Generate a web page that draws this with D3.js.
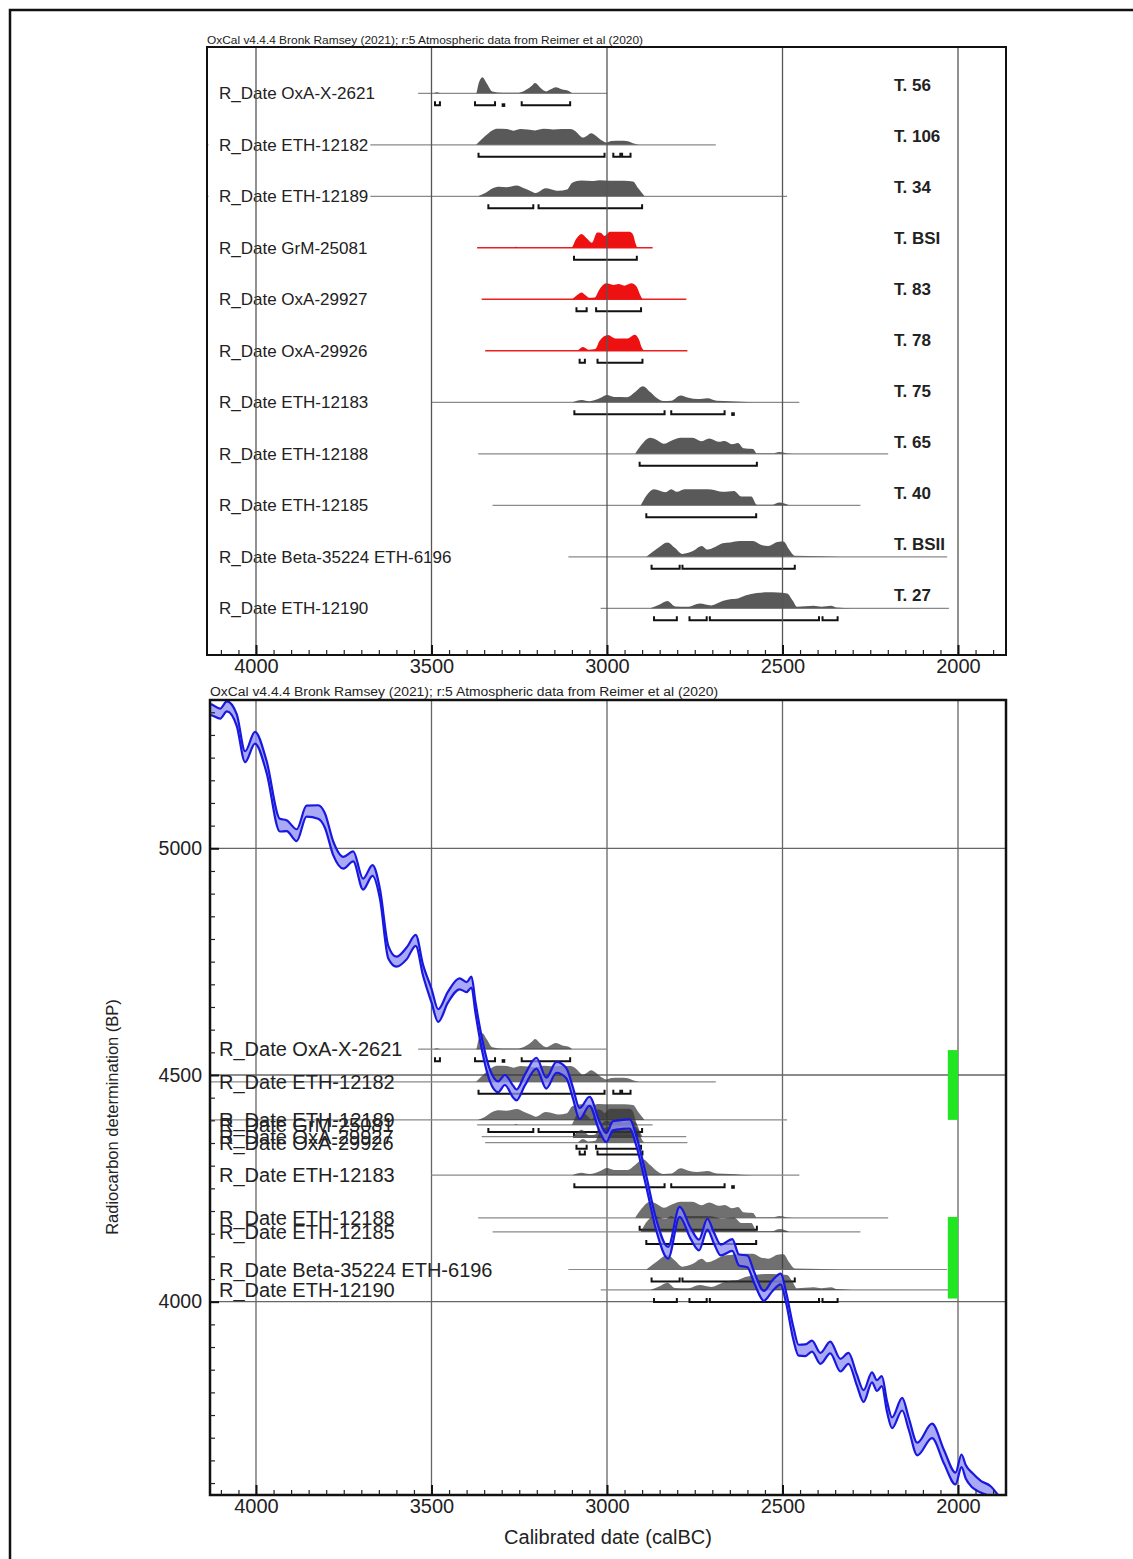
<!DOCTYPE html>
<html>
<head>
<meta charset="utf-8">
<script src="https://cdn.jsdelivr.net/npm/d3@7"></script>
<style>
body{margin:0;background:#fff}
svg{display:block;font-family:"Liberation Sans",Arial,sans-serif}
</style>
</head>
<body>
<div id="box"></div>
<script>
// ---- data ----
var sampleNames=['OxA-X-2621','ETH-12182','ETH-12189','GrM-25081','OxA-29927','OxA-29926','ETH-12183','ETH-12188','ETH-12185','Beta-35224 ETH-6196','ETH-12190'];
var graveTags=['T. 56','T. 106','T. 34','T. BSI','T. 83','T. 78','T. 75','T. 65','T. 40','T. BSII','T. 27'];
var sampleBP=[4557,4485,4401,4390,4364,4351,4279,4185,4154,4071,4026];	//radiocarbon determination
var redSamples=['GrM-25081','OxA-29927','OxA-29926'];
var lineFrom=[3538,4200,4200,3370,3357,3347,3500,3367,3326,3110,3018];	//calBC
var lineTo=[3000,2690,2487,2870,2774,2771,2452,2199,2278,2031,2026];

// [calBC, relative probability]
var dist_OxAX2621=[[3494,0],[3484,0.06],[3474,0],[3373,0],[3366,0.6],[3355,1],[3342,0.6],[3327,0.12],[3297,0.04],[3256,0.04],[3236,0.15],[3215,0.45],[3205,0.64],[3190,0.35],[3173,0.12],[3160,0.25],[3146,0.38],[3129,0.25],[3109,0.15],[3099,0]];
var dist_ETH12182=[[3373,0],[3357,0.35],[3342,0.65],[3327,0.9],[3312,1],[3286,0.98],[3266,0.88],[3246,0.98],[3226,0.95],[3205,0.9],[3180,1],[3154,0.96],[3129,0.98],[3104,0.98],[3092,0.88],[3068,0.45],[3058,0.55],[3045,0.72],[3031,0.55],[3017,0.3],[3002,0.15],[2987,0.24],[2962,0.25],[2941,0.22],[2921,0.06],[2909,0]];
var dist_ETH12189=[[3368,0],[3347,0.2],[3327,0.49],[3307,0.6],[3286,0.57],[3258,0.68],[3236,0.5],[3215,0.3],[3203,0.2],[3175,0.5],[3160,0.44],[3139,0.34],[3114,0.42],[3099,0.85],[3073,0.98],[3043,0.95],[3022,1],[2992,0.97],[2951,0.97],[2926,0.93],[2911,0.5],[2893,0]];
var dist_GrM25081=[[3266,0],[3258,0.06],[3250,0],[3102,0],[3088,0.55],[3073,0.87],[3058,0.6],[3043,0.32],[3028,0.96],[3017,0.93],[3007,0.74],[2992,1],[2936,1],[2926,0.83],[2919,0.3],[2914,0]];
var dist_OxA29927=[[3099,0],[3083,0.3],[3073,0.43],[3061,0.25],[3051,0.1],[3035,0.12],[3022,0.6],[3002,1],[2982,0.9],[2967,0.95],[2951,0.85],[2931,1],[2916,0.8],[2906,0.3],[2899,0]];
var dist_OxA29926=[[3083,0],[3068,0.23],[3053,0.07],[3033,0.12],[3022,0.6],[2997,0.98],[2977,0.77],[2941,0.77],[2921,1],[2909,0.7],[2901,0.2],[2894,0]];
var dist_ETH12183=[[3099,0],[3072,0.15],[3050,0.07],[3018,0.28],[3000,0.45],[2980,0.33],[2942,0.32],[2920,0.64],[2898,1],[2877,0.64],[2860,0.3],[2839,0.08],[2817,0.1],[2790,0.43],[2768,0.28],[2741,0.2],[2714,0.26],[2687,0.1],[2649,0.07],[2617,0.03],[2584,0]];
var dist_ETH12188=[[2920,0],[2904,0.5],[2877,1],[2857,0.85],[2839,0.63],[2812,0.87],[2790,1],[2757,1],[2730,0.78],[2709,0.95],[2682,0.75],[2665,0.8],[2644,0.6],[2627,0.68],[2611,0.35],[2584,0.3],[2573,0.03],[2530,0.03],[2508,0.12],[2487,0.03],[2470,0]];
var dist_ETH12185=[[2904,0],[2888,0.6],[2866,1],[2833,0.82],[2817,1],[2801,0.84],[2779,1],[2725,1],[2703,0.98],[2671,0.84],[2638,0.9],[2617,0.55],[2589,0.55],[2573,0.04],[2530,0.04],[2508,0.18],[2481,0]];
var dist_Beta35224=[[2888,0],[2855,0.55],[2828,0.9],[2806,0.55],[2785,0.18],[2757,0.34],[2730,0.68],[2714,0.45],[2692,0.61],[2671,0.84],[2649,0.9],[2622,0.98],[2584,0.98],[2562,0.75],[2541,0.68],[2514,0.93],[2497,0.95],[2481,0.45],[2465,0.06],[2389,0.03],[2335,0]];
var dist_ETH12190=[[2877,0],[2850,0.23],[2828,0.45],[2806,0.12],[2768,0.1],[2736,0.3],[2703,0.18],[2671,0.45],[2649,0.57],[2627,0.62],[2606,0.8],[2573,0.95],[2541,1],[2514,0.98],[2487,0.93],[2470,0.45],[2459,0.1],[2411,0.16],[2389,0.1],[2362,0.16],[2346,0.05],[2302,0]];

// 95.4% ranges, calBC
var hpd_OxAX2621=[[3490,3476],[3376,3319],[3296,3294],[3243,3105]];
var hpd_ETH12182=[[3366,3007],[2982,2962],[2957,2933]];
var hpd_ETH12189=[[3338,3210],[3195,2900]];
var hpd_GrM25081=[[3094,2915]];
var hpd_OxA29927=[[3087,3058],[3031,2903]];
var hpd_OxA29926=[[3078,3063],[3027,2899]];
var hpd_ETH12183=[[3093,2836],[2817,2665],[2642,2640]];
var hpd_ETH12188=[[2907,2573]];
var hpd_ETH12185=[[2888,2575]];
var hpd_Beta35224=[[2873,2793],[2785,2465]];
var hpd_ETH12190=[[2866,2801],[2765,2716],[2707,2396],[2386,2343]];

var distList=[dist_OxAX2621,dist_ETH12182,dist_ETH12189,dist_GrM25081,dist_OxA29927,dist_OxA29926,dist_ETH12183,dist_ETH12188,dist_ETH12185,dist_Beta35224,dist_ETH12190];
var hpdList=[hpd_OxAX2621,hpd_ETH12182,hpd_ETH12189,hpd_GrM25081,hpd_OxA29927,hpd_OxA29926,hpd_ETH12183,hpd_ETH12188,hpd_ETH12185,hpd_Beta35224,hpd_ETH12190];

// calibration curve (IntCal20 as drawn): calBC, BP, 1 sigma
var curveYear=[4150,4131,4102,4083,4055,4031,4003,3970,3932,3913,3884,3856,3823,3804,3780,3751,3723,3695,3668,3647,3623,3600,3571,3545,3524,3500,3481,3453,3420,3400,3386,3375,3360,3334,3310,3291,3267,3258,3234,3201,3173,3144,3116,3097,3078,3050,3021,3002,2983,2955,2935,2917,2888,2860,2826,2793,2762,2738,2714,2695,2676,2643,2624,2600,2581,2553,2529,2505,2490,2469,2454,2435,2416,2392,2364,2335,2312,2288,2269,2245,2231,2217,2202,2188,2159,2140,2116,2074,2040,2007,1990,1978,1959,1935,1907,1880];
var curveBP=[5300,5306,5297,5313,5283,5202,5244,5180,5051,5050,5029,5082,5080,5062,5000,4968,4982,4921,4951,4900,4771,4750,4768,4797,4731,4675,4631,4672,4701,4694,4705,4650,4583,4500,4474,4489,4463,4456,4489,4526,4482,4517,4504,4460,4415,4442,4386,4362,4388,4391,4392,4356,4265,4170,4108,4198,4151,4125,4171,4140,4114,4125,4092,4089,4054,4013,4035,4050,4010,3930,3893,3893,3902,3875,3899,3860,3875,3827,3792,3833,3815,3825,3768,3733,3774,3730,3675,3715,3658,3610,3649,3625,3606,3592,3581,3555];
var curveErr=[12,12,11,11,13,12,13,13,14,12,13,12,15,16,15,13,11,12,12,11,14,11,13,12,12,15,14,12,12,11,12,12,13,13,12,11,13,12,12,12,12,12,11,12,12,10,11,10,10,10,10,11,12,12,13,11,12,12,12,12,12,13,12,13,12,11,12,12,12,14,12,13,12,12,13,14,12,12,13,11,12,11,12,12,14,13,14,16,15,13,14,15,16,13,12,12];

var phaseBars=[[4555,4401],[4187,4007]];	//green bars, BP
var phaseBarYears=[2029,2000];

var majorYears=[4000,3500,3000,2500,2000];
var majorBP=[4000,4500,5000];
var headerText='OxCal v4.4.4 Bronk Ramsey (2021); r:5 Atmospheric data from Reimer et al (2020)';

// ---- layout ----
var W=1133,H=1559;
var topBox={l:207,r:1006,t:47,b:655};
var botBox={l:210,r:1006,t:700,b:1495};
var peakH=16;

var svg=d3.select('#box').append('svg').attr('width',W).attr('height',H);

var x=d3.scaleLinear().domain([4000,2000]).range([256,958]);
var yRow=d3.scalePoint().domain(sampleNames).range([93.3,608.3]);
var yTag=d3.scalePoint().domain(graveTags).range([85,595]);
var yBP=d3.scaleLinear().domain([4000,5000]).range([1301.7,848.3]);

// outer border (runs off the page right and bottom)
svg.append('path').attr('d','M10,'+H+'V10H'+W).attr('fill','none').attr('stroke','#111').attr('stroke-width',2.5);

function clip(id,b){
	svg.append('clipPath').attr('id',id).append('rect')
		.attr('x',b.l).attr('y',b.t).attr('width',b.r-b.l).attr('height',b.b-b.t);
}
clip('clipTop',topBox);
clip('clipBot',botBox);

function area(base){
	return d3.area().x(function(d){return x(d[0]);})
		.y0(base).y1(function(d){return base-d[1]*peakH;})
		.curve(d3.curveMonotoneX);
}

function brackets(g,ranges,base){
	ranges.forEach(function(r){
		var x1=x(r[0]),x2=x(r[1]);
		if(x2-x1<3){	//tiny range: dot
			g.append('rect').attr('x',(x1+x2)/2-1.8).attr('y',base-2).attr('width',3.6).attr('height',3.6).attr('fill','#111');
		}else{
			g.append('path').attr('d','M'+x1+','+(base-4)+'V'+base+'H'+x2+'V'+(base-4))
				.attr('fill','none').attr('stroke','#111').attr('stroke-width',2);
		}
	});
}

function xTicks(g,b){
	var minor=d3.range(4100,1850,-50).filter(function(v){return majorYears.indexOf(v)<0;});
	g.append('g').attr('transform','translate(0,'+b.b+')')
		.call(d3.axisBottom(x).tickValues(minor).tickSize(-5).tickFormat(''))
		.call(function(a){a.select('.domain').remove();a.selectAll('line').attr('stroke','#222').attr('stroke-width',1.2);});
	g.append('g').attr('transform','translate(0,'+b.b+')')
		.call(d3.axisBottom(x).tickValues(majorYears).tickSize(-10).tickPadding(4).tickFormat(d3.format('d')))
		.call(function(a){
			a.select('.domain').remove();
			a.selectAll('line').attr('stroke','#111').attr('stroke-width',2);
			a.selectAll('text').attr('font-size',20).attr('fill','#222').attr('font-family','"Liberation Sans",Arial,sans-serif');
		});
}

// ================= top panel: multiplot =================
var gTop=svg.append('g');
svg.append('text').attr('x',topBox.l).attr('y',44).attr('font-size',10.5).attr('fill','#222')
	.attr('textLength',436).attr('lengthAdjust','spacingAndGlyphs').text(headerText);

var gTopData=gTop.append('g').attr('clip-path','url(#clipTop)');
sampleNames.forEach(function(n,i){
	var base=yRow(n),red=redSamples.indexOf(n)>=0;
	gTopData.append('line').attr('x1',x(lineFrom[i])).attr('x2',x(lineTo[i]))
		.attr('y1',base).attr('y2',base)
		.attr('stroke',red?'#e82020':'#8a8a8a').attr('stroke-width',red?1.5:1.2);
	gTopData.append('path').datum(distList[i]).attr('d',area(base))
		.attr('fill',red?'#ee1111':'#595959');
	brackets(gTopData,hpdList[i],base+12);
});

// labels sit on a white box, gridlines go over them
var gTopLab=gTop.append('g');
sampleNames.forEach(function(n){
	var t=gTopLab.append('text').attr('x',219).attr('y',yRow(n)).attr('dy','0.35em')
		.attr('font-size',17).attr('fill','#222').text('R_Date '+n);
	var len=t.node().getComputedTextLength();
	gTopLab.insert('rect','text').attr('x',topBox.l+1.5).attr('y',yRow(n)-10)
		.attr('width',219-topBox.l-1.5+len+2).attr('height',20).attr('fill','#fff');
});

gTop.append('g').selectAll('line').data(majorYears).enter().append('line')
	.attr('x1',function(d){return x(d);}).attr('x2',function(d){return x(d);})
	.attr('y1',topBox.t).attr('y2',topBox.b)
	.attr('stroke','#555').attr('stroke-width',1.3);

gTop.append('g').selectAll('text').data(graveTags).enter().append('text')
	.attr('x',894).attr('y',function(d){return yTag(d);}).attr('dy','0.35em')
	.attr('font-size',17).attr('font-weight','bold').attr('fill','#222')
	.text(function(d){return d;});

gTop.append('rect').attr('x',topBox.l).attr('y',topBox.t)
	.attr('width',topBox.r-topBox.l).attr('height',topBox.b-topBox.t)
	.attr('fill','none').attr('stroke','#111').attr('stroke-width',2);
xTicks(gTop,topBox);

// ================= bottom panel: curve plot =================
var gBot=svg.append('g');
svg.append('text').attr('x',botBox.l).attr('y',696).attr('font-size',12).attr('fill','#222')
	.attr('textLength',508).attr('lengthAdjust','spacingAndGlyphs').text(headerText);

var gBotData=gBot.append('g').attr('clip-path','url(#clipBot)');
gBotData.selectAll('line.gx').data(majorYears).enter().append('line').attr('class','gx')
	.attr('x1',function(d){return x(d);}).attr('x2',function(d){return x(d);})
	.attr('y1',botBox.t).attr('y2',botBox.b)
	.attr('stroke','#666').attr('stroke-width',1.3);
gBotData.selectAll('line.gy').data(majorBP).enter().append('line').attr('class','gy')
	.attr('x1',botBox.l).attr('x2',botBox.r)
	.attr('y1',function(d){return yBP(d);}).attr('y2',function(d){return yBP(d);})
	.attr('stroke','#666').attr('stroke-width',1.3);

sampleNames.forEach(function(n,i){
	var base=yBP(sampleBP[i]);
	gBotData.append('line').attr('x1',x(lineFrom[i])).attr('x2',x(lineTo[i]))
		.attr('y1',base).attr('y2',base)
		.attr('stroke','#8a8a8a').attr('stroke-width',1.2);
	gBotData.append('path').datum(distList[i]).attr('d',area(base))
		.attr('fill','#333').attr('fill-opacity',0.7);
	brackets(gBotData,hpdList[i],base+12);
});
sampleNames.forEach(function(n,i){
	gBotData.append('text').attr('x',219).attr('y',yBP(sampleBP[i])).attr('dy','0.35em')
		.attr('font-size',20).attr('fill','#222').text('R_Date '+n);
});

// calibration band
var curvePts=curveYear.map(function(yr,i){return [yr,curveBP[i],curveErr[i]];});
gBotData.append('path').datum(curvePts)
	.attr('d',d3.area().x(function(d){return x(d[0]);})
		.y0(function(d){return yBP(d[1]-d[2]);}).y1(function(d){return yBP(d[1]+d[2]);})
		.curve(d3.curveMonotoneX))
	.attr('fill','#8c8cf2').attr('fill-opacity',0.75);
[1,-1].forEach(function(s){
	gBotData.append('path').datum(curvePts)
		.attr('d',d3.line().x(function(d){return x(d[0]);})
			.y(function(d){return yBP(d[1]+s*d[2]);}).curve(d3.curveMonotoneX))
		.attr('fill','none').attr('stroke','#1818e0').attr('stroke-width',2.2);
});

gBotData.selectAll('rect.phase').data(phaseBars).enter().append('rect').attr('class','phase')
	.attr('x',x(phaseBarYears[0])).attr('width',x(phaseBarYears[1])-x(phaseBarYears[0]))
	.attr('y',function(d){return yBP(d[0]);}).attr('height',function(d){return yBP(d[1])-yBP(d[0]);})
	.attr('fill','#22e622');

gBot.append('rect').attr('x',botBox.l).attr('y',botBox.t)
	.attr('width',botBox.r-botBox.l).attr('height',botBox.b-botBox.t)
	.attr('fill','none').attr('stroke','#111').attr('stroke-width',2.5);
xTicks(gBot,botBox);

var minorBP=d3.range(3600,5330,50).filter(function(v){return majorBP.indexOf(v)<0;});
gBot.append('g').attr('transform','translate('+botBox.l+',0)')
	.call(d3.axisLeft(yBP).tickValues(minorBP).tickSize(-5).tickFormat(''))
	.call(function(a){a.select('.domain').remove();a.selectAll('line').attr('stroke','#222').attr('stroke-width',1.2);});
gBot.append('g').attr('transform','translate('+botBox.l+',0)')
	.call(d3.axisLeft(yBP).tickValues(majorBP).tickSize(-9).tickPadding(8).tickFormat(d3.format('d')))
	.call(function(a){
		a.select('.domain').remove();
		a.selectAll('line').attr('stroke','#111').attr('stroke-width',2);
		a.selectAll('text').attr('font-size',19.5).attr('fill','#222').attr('font-family','"Liberation Sans",Arial,sans-serif');
	});

svg.append('text').attr('x',608).attr('y',1537).attr('dy','0.35em').attr('text-anchor','middle')
	.attr('font-size',20).attr('fill','#222').text('Calibrated date (calBC)');
svg.append('text').attr('transform','translate(112,1117) rotate(-90)').attr('dy','0.35em')
	.attr('text-anchor','middle').attr('font-size',16.5).attr('fill','#222')
	.text('Radiocarbon determination (BP)');
</script>
</body>
</html>
